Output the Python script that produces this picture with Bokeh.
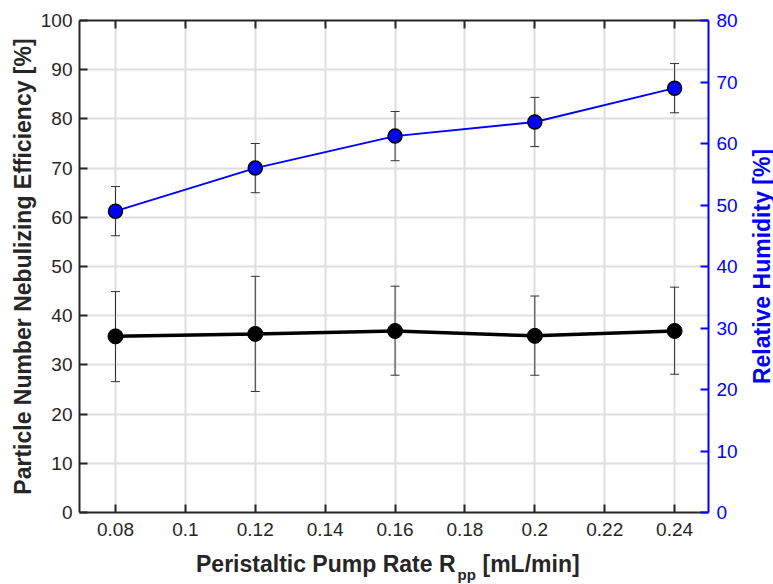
import math
from bokeh.plotting import figure
from bokeh.layouts import column, row
from bokeh.models import (Range1d, LinearAxis, FixedTicker, Whisker, TeeHead,
                          ColumnDataSource, Label, CustomJSTickFormatter)
from bokeh.embed import file_html
from bokeh.resources import INLINE

# ---- data ----
rate = [0.08, 0.12, 0.16, 0.20, 0.24]
efficiency = [35.8, 36.3, 36.9, 35.9, 36.9]
eff_lower = [26.6, 24.6, 27.9, 27.9, 28.1]
eff_upper = [44.9, 48.0, 46.0, 44.0, 45.8]
humidity = [49.0, 56.0, 61.2, 63.5, 69.0]
hum_err = [4.0, 4.0, 4.0, 4.0, 4.0]

x_ticks = [0.08, 0.10, 0.12, 0.14, 0.16, 0.18, 0.20, 0.22, 0.24]
x_tick_labels = ["0.08", "0.1", "0.12", "0.14", "0.16", "0.18", "0.2", "0.22", "0.24"]
left_ticks = [0, 10, 20, 30, 40, 50, 60, 70, 80, 90, 100]
right_ticks = [0, 10, 20, 30, 40, 50, 60, 70, 80]

FONT = "Liberation Sans"
AX = "#262626"
BLUE = "#0000ff"
GRID = "#dedede"

p = figure(width=745, height=545, output_backend="svg", toolbar_location=None,
           x_range=Range1d(0.0697, 0.2497), y_range=Range1d(0, 100),
           min_border_left=79, min_border_right=37, min_border_top=20,
           min_border_bottom=33)
p.outline_line_color = None
p.background_fill_color = "white"
p.border_fill_color = "white"
p.extra_y_ranges = {"rh": Range1d(0, 80)}

# grid
p.xgrid.ticker = FixedTicker(ticks=x_ticks)
p.ygrid.ticker = FixedTicker(ticks=left_ticks)
for g in (p.xgrid[0], p.ygrid[0]):
    g.grid_line_color = GRID
    g.grid_line_width = 2

def style_axis(ax, color):
    ax.axis_line_color = color
    ax.axis_line_width = 2
    ax.major_tick_line_color = color
    ax.major_tick_line_width = 2
    ax.major_tick_in = 8
    ax.major_tick_out = 0
    ax.minor_tick_line_color = None
    ax.major_label_text_font = FONT
    ax.major_label_text_font_size = "19px"
    ax.major_label_text_color = color
    ax.axis_label_text_font = FONT
    ax.axis_label_text_font_size = "23px"
    ax.axis_label_text_font_style = "bold"
    ax.axis_label_text_color = color

# bottom axis
xb = p.xaxis[0]
style_axis(xb, AX)
xb.ticker = FixedTicker(ticks=x_ticks)
xb.major_label_overrides = {t: l for t, l in zip(x_ticks, x_tick_labels)}
xb.major_label_standoff = 10

# left axis
yl = p.yaxis[0]
style_axis(yl, AX)
yl.ticker = FixedTicker(ticks=left_ticks)
yl.major_label_standoff = 7
yl.axis_label = "Particle Number Nebulizing Efficiency [%]"
yl.axis_label_standoff = 2

# top axis (ticks only)
xt = LinearAxis(ticker=FixedTicker(ticks=x_ticks),
                formatter=CustomJSTickFormatter(code="return ''"))
style_axis(xt, AX)
xt.major_label_text_font_size = "1px"
xt.major_label_standoff = 0
p.add_layout(xt, "above")

# right axis (title drawn in a strip to the right)
yr = LinearAxis(y_range_name="rh", ticker=FixedTicker(ticks=right_ticks))
style_axis(yr, BLUE)
yr.major_label_standoff = 8
p.add_layout(yr, "right")

# error bars
src_eff = ColumnDataSource(dict(x=rate, y=efficiency, lower=eff_lower, upper=eff_upper))
src_hum = ColumnDataSource(dict(x=rate, y=humidity,
                                lower=[h - e for h, e in zip(humidity, hum_err)],
                                upper=[h + e for h, e in zip(humidity, hum_err)]))
ECOL = "#333333"
for src, rng in ((src_eff, "default"), (src_hum, "rh")):
    w = Whisker(source=src, base="x", lower="lower", upper="upper",
                line_color=ECOL, line_width=1, level="underlay",
                upper_head=TeeHead(size=9, line_color=ECOL, line_width=1),
                lower_head=TeeHead(size=9, line_color=ECOL, line_width=1))
    if rng != "default":
        w.y_range_name = rng
    p.add_layout(w)

# series
p.line("x", "y", source=src_eff, line_color="black", line_width=3.5)
p.scatter("x", "y", source=src_eff, size=15, fill_color="black", line_color="black")
p.line("x", "y", source=src_hum, y_range_name="rh", line_color=BLUE, line_width=2)
p.scatter("x", "y", source=src_hum, y_range_name="rh", size=14, fill_color=BLUE,
          line_color="black", line_width=1.5)

def strip(w, h):
    s = figure(width=w, height=h, output_backend="svg", toolbar_location=None,
               x_axis_location=None, y_axis_location=None, min_border=0,
               x_range=Range1d(0, 1), y_range=Range1d(0, 1))
    s.outline_line_color = None
    s.xgrid.visible = False
    s.ygrid.visible = False
    s.background_fill_color = "white"
    s.border_fill_color = "white"
    return s

# x-axis title with subscript (frame of this strip is aligned with the plot frame)
t = strip(745, 39)
lab_kw = dict(x_units="screen", y_units="screen", text_font=FONT,
              text_font_style="bold", text_color=AX, text_baseline="alphabetic")
t.add_layout(Label(x=376, y=21, text="Peristaltic Pump Rate R", text_align="right",
                   text_font_size="23px", **lab_kw))
t.add_layout(Label(x=378, y=10, text="pp", text_align="left",
                   text_font_size="15px", **lab_kw))
t.add_layout(Label(x=403, y=21, text="[mL/min]", text_align="left",
                   text_font_size="23px", **lab_kw))

# right axis title
r = strip(28, 584)
r.add_layout(Label(x=16, y=318, text="Relative Humidity [%]", angle=math.pi / 2,
                   x_units="screen", y_units="screen", text_font=FONT,
                   text_font_style="bold", text_font_size="23px", text_color=BLUE,
                   text_align="center", text_baseline="middle"))

layout = row(column(p, t, spacing=0), r, spacing=0)
open("out.html", "w").write(file_html(layout, INLINE))
